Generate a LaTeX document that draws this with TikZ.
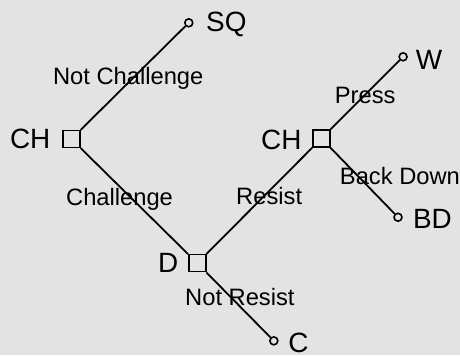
\documentclass[tikz,border=0pt]{standalone}
\usepackage{fontspec}
\setmainfont{Liberation Sans}

\begin{document}
\begin{tikzpicture}[
  move/.style={rectangle, draw, line width=0.8pt, minimum size=0.3cm, inner sep=0pt},
  outcome/.style={circle, draw, line width=0.8pt, minimum size=0.14cm, inner sep=0pt},
  player/.style={anchor=base west, inner sep=0pt, font=\fontsize{14}{16}\selectfont},
  choice/.style={anchor=base west, inner sep=0pt, font=\fontsize{11.9}{14}\selectfont},
  branch/.style={line width=0.9pt},
]

% --- Paper ---
\fill[gray!22] (0,0) rectangle (8.114,6.262);
\useasboundingbox (0,0) rectangle (8.114,6.262);

% --- Decision nodes ---
\node[move] (ch1) at (1.26,3.81) {};
\node[move] (d) at (3.48,1.62) {};
\node[move] (ch2) at (5.67,3.82) {};

% --- Outcomes ---
\node[outcome] (sq) at (3.33,5.86) {};
\node[outcome] (w) at (7.11,5.26) {};
\node[outcome] (bd) at (7.02,2.43) {};
\node[outcome] (c) at (4.83,0.25) {};

% Branches
\foreach \a/\b in {ch1/sq, ch1/d, d/ch2, ch2/w, ch2/bd, d/c}
  \draw[branch] (\a) -- (\b);

% --- Players and outcome names ---
\node[player] (ch1lab) at (0.17,3.65) {CH};
\node[player] (ch2lab) at (4.60,3.63) {CH};
\node[player] (dlab) at (2.78,1.45) {D};
\node[player] (sqlab) at (3.63,5.70) {SQ};
\node[player] (wlab) at (7.33,5.04) {W};
\node[player] (bdlab) at (7.28,2.24) {BD};
\node[player] (clab) at (5.08,0.05) {C};

% --- Moves ---
\node[choice] (notchal) at (0.93,4.78) {Not Challenge};
\node[choice] (chal) at (1.16,2.63) {Challenge};
\node[choice] (resist) at (4.16,2.66) {Resist};
\node[choice] (notres) at (3.26,0.88) {Not Resist};
\node[choice] (press) at (5.90,4.43) {Press};
\node[choice] (back) at (5.99,3.00) {Back Down};

\end{tikzpicture}
\end{document}
